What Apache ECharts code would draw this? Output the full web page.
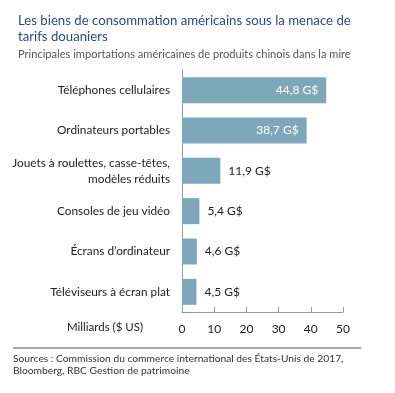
<!DOCTYPE html>
<html>
<head>
<meta charset="utf-8">
<script src="https://cdn.jsdelivr.net/npm/echarts@6/dist/echarts.min.js"></script>
<style>html,body{margin:0;padding:0;background:#fff;}#c{width:395px;height:393px;}</style>
</head>
<body>
<div id="c"></div>
<script>
var categories = ["Téléphones cellulaires", "Ordinateurs portables", "Jouets à roulettes, casse-têtes,\nmodèles réduits", "Consoles de jeu vidéo", "Écrans d’ordinateur", "Téléviseurs à écran plat"];
var values = [44.8, 38.7, 11.9, 5.4, 4.6, 4.5];
var insideFlags = [true, true, false, false, false, false];
var xTicks = [0, 10, 20, 30, 40, 50];

var FONT = 'Lato';
var titleText = 'Les biens de consommation américains sous la menace de\ntarifs douaniers';
var subText = 'Principales importations américaines de produits chinois dans la mire';
function sizeFor(text, family, target) {
  var c = document.createElement('canvas').getContext('2d');
  c.font = '20px ' + family;
  return 20 * target / c.measureText(text).width;
}
var titleSize = Math.min(15.5, sizeFor('Les biens de consommation américains sous la menace de', FONT, 333));
var subSize = sizeFor(subText, FONT, 333);

var chart = echarts.init(document.getElementById('c'));
var data = values.map(function (v, i) {
  return {
    value: v,
    label: insideFlags[i]
      ? { position: 'insideRight', distance: 8, color: '#ffffff' }
      : { position: 'right', distance: 8, color: '#222222' }
  };
});
chart.setOption({
  animation: false,
  textStyle: { fontFamily: FONT },
  title: [
    { text: titleText, left: 13, top: 7,
      textStyle: { fontFamily: FONT, fontSize: titleSize, fontWeight: 'normal', color: '#2d4a7c', lineHeight: 16.5 } },
    { text: subText, left: 13, top: 44,
      textStyle: { fontFamily: FONT, fontSize: subSize, fontWeight: 'normal', color: '#555555' } }
  ],
  grid: { left: 182, right: 52, top: 70, bottom: 81 },
  xAxis: {
    type: 'value', min: 0, max: 50, interval: 10,
    axisLine: { show: true, lineStyle: { color: '#9a9a9a', width: 1 } },
    axisTick: { show: true, inside: true, length: 5, lineStyle: { color: '#9a9a9a' } },
    axisLabel: { margin: 11, color: '#222', fontSize: 12, fontFamily: FONT,
      formatter: function (v) { return xTicks.indexOf(v) >= 0 ? String(v) : ''; } },
    splitLine: { show: false }
  },
  yAxis: {
    type: 'category', data: categories, inverse: true,
    axisLine: { show: true, lineStyle: { color: '#9a9a9a', width: 1 } },
    axisTick: { show: false },
    axisLabel: { margin: 12, color: '#222', fontSize: 11.8, fontFamily: FONT, align: 'right', lineHeight: 16 }
  },
  series: [{
    type: 'bar', data: data, barWidth: 26,
    itemStyle: { color: '#7fa7ba' },
    label: { show: true, fontSize: 12, fontFamily: FONT,
      formatter: function (p) { return String(p.value).replace('.', ',') + ' G$'; } }
  }],
  graphic: [
    { type: 'text', left: 67, top: 321, style: { text: 'Milliards ($ US)', fontSize: 11.5, fontFamily: FONT, fill: '#222' } },
    { type: 'line', shape: { x1: 13, y1: 348, x2: 361, y2: 348 }, style: { stroke: '#555', lineWidth: 1 } },
    { type: 'text', left: 13, top: 353, style: { text: 'Sources : Commission du commerce international des États-Unis de 2017,\nBloomberg, RBC Gestion de patrimoine', fontSize: 10.25, lineHeight: 12, fontFamily: FONT, fill: '#333' } }
  ]
});
</script>
</body>
</html>
